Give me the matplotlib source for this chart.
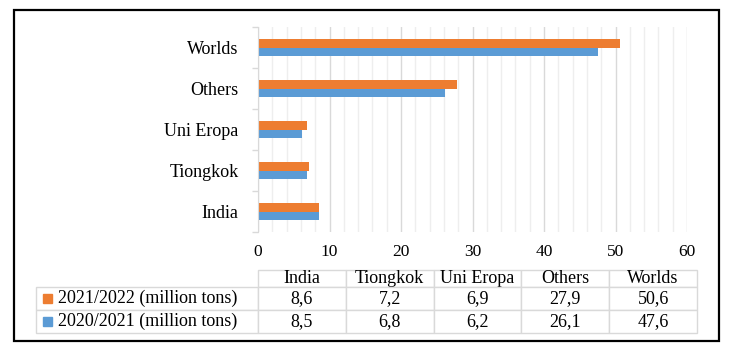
import numpy as np
import matplotlib
matplotlib.use("Agg")
import matplotlib.pyplot as plt
from matplotlib.table import Table
from matplotlib.patches import Rectangle

categories = ["India", "Tiongkok", "Uni Eropa", "Others", "Worlds"]
series_names = ["2021/2022 (million tons)", "2020/2021 (million tons)"]
values_2122 = [8.6, 7.2, 6.9, 27.9, 50.6]
values_2021 = [8.5, 6.8, 6.2, 26.1, 47.6]
x_ticks = [0, 10, 20, 30, 40, 50, 60]

orange = "#ED7D31"
blue = "#5B9BD5"
grid_major = "#D9D9D9"
grid_minor = "#EEEEEE"

plt.rcParams["font.family"] = ["Liberation Serif", "DejaVu Serif"]
plt.rcParams["font.size"] = 13

W, H = 730, 353
fig = plt.figure(figsize=(W / 100, H / 100), dpi=100)

# plot area in pixels
ax_l, ax_r, ax_t, ax_b = 258, 687, 27, 232
ax_w, ax_h = ax_r - ax_l, ax_b - ax_t
ax = fig.add_axes([ax_l / W, 1 - ax_b / H, ax_w / W, ax_h / H])

y = np.arange(len(categories))
h = 0.215
ax.barh(y + h / 2, values_2122, h, color=orange, zorder=3)
ax.barh(y - h / 2, values_2021, h, color=blue, zorder=3)

ax.set_xlim(0, 60)
ax.set_ylim(-0.5, len(categories) - 0.5)
ax.set_xticks(x_ticks)
ax.set_xticks(np.arange(0, 61, 2), minor=True)
ax.set_yticks(y)
ax.set_yticklabels(categories)
ax.set_yticks(np.arange(-0.5, len(categories), 1), minor=True)
ax.tick_params(axis="x", which="both", length=0, pad=9, labelsize=12.5)
ax.tick_params(axis="y", which="major", length=0, pad=14)
ax.tick_params(axis="y", which="minor", length=4, color=grid_major, width=1)
ax.grid(axis="x", which="major", color=grid_major, lw=1, zorder=0)
ax.grid(axis="x", which="minor", color=grid_minor, lw=1, zorder=0)
for s in ["top", "right", "bottom"]:
    ax.spines[s].set_visible(False)
ax.spines["left"].set_color(grid_major)
ax.spines["left"].set_zorder(4)

# data table below the chart (pixel layout -> axes units)
tab_l, tab_r, tab_t = 36, 697, 270
row_h_px = [17, 23, 23]
label_w = (ax_l - tab_l) / ax_w
col_w = (tab_r - ax_l) / len(categories) / ax_w
row_h = [r / ax_h for r in row_h_px]
tab_top = (ax_b - tab_t) / ax_h
tab_bottom = tab_top - sum(row_h)

table = Table(ax, bbox=[0, tab_bottom, col_w * len(categories), sum(row_h)])
for j, cat in enumerate(categories):
    table.add_cell(0, j, width=col_w, height=row_h[0], text=cat, loc="center")
rows = [values_2122, values_2021]
for i, (name, vals) in enumerate(zip(series_names, rows)):
    table.add_cell(i + 1, -1, width=label_w, height=row_h[i + 1], text=name, loc="left")
    for j, v in enumerate(vals):
        table.add_cell(i + 1, j, width=col_w, height=row_h[i + 1],
                       text=f"{v:.1f}".replace(".", ","), loc="center")
table.auto_set_font_size(False)
table.set_fontsize(13)
for cell in table.get_celld().values():
    cell.set_edgecolor(grid_major)
    cell.set_linewidth(1)
    cell.get_text().set_va("center")
table.set_clip_on(False)
ax.add_table(table)

# legend keys inside the row labels
key = 9
row_top = tab_top - row_h[0]
for i, c in enumerate([orange, blue]):
    cy = row_top - row_h[i + 1] / 2
    ax.add_patch(Rectangle((-label_w + 7 / ax_w, cy - key / 2 / ax_h), key / ax_w, key / ax_h,
                           transform=ax.transAxes, color=c, clip_on=False))
    row_top -= row_h[i + 1]

# outer frame
fig.patches.append(Rectangle((13.5 / W, 1 - 341 / H), 705 / W, 331.5 / H,
                             transform=fig.transFigure, fill=False,
                             ec="black", lw=1.6))

fig.savefig("out.png", dpi=100)
